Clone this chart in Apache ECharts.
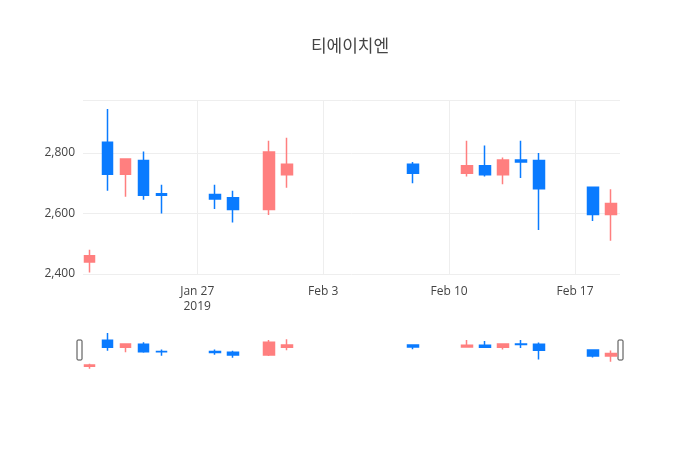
<!DOCTYPE html>
<html><head><meta charset="utf-8">
<script src="https://cdn.jsdelivr.net/npm/echarts@6/dist/echarts.min.js"></script>
<style>html,body{margin:0;padding:0;background:#fff}#c{width:700px;height:450px}</style>
</head><body><div id="c"></div>
<script>
const dates = ['2019-01-21','2019-01-22','2019-01-23','2019-01-24','2019-01-25','2019-01-28','2019-01-29','2019-01-31','2019-02-01','2019-02-08','2019-02-11','2019-02-12','2019-02-13','2019-02-14','2019-02-15','2019-02-18','2019-02-19'];
const opens  = [2440,2835,2730,2775,2665,2663,2652,2613,2728,2763,2733,2758,2728,2777,2775,2687,2597];
const closes = [2460,2730,2780,2660,2660,2648,2613,2803,2763,2733,2758,2728,2777,2770,2682,2597,2633];
const lows   = [2405,2675,2655,2645,2600,2615,2570,2595,2685,2700,2722,2722,2697,2717,2545,2575,2510];
const highs  = [2480,2945,2780,2805,2695,2695,2675,2840,2850,2770,2840,2825,2785,2840,2800,2687,2680];
const tickDates = ['2019-01-27','2019-02-03','2019-02-10','2019-02-17'];
const tickLabels = ['Jan 27\n2019','Feb 3','Feb 10','Feb 17'];

const DAY = 86400000;
const base = Date.parse('2019-01-27T00:00:00Z');
const day = d => (Date.parse(d + 'T00:00:00Z') - base) / DAY;
const data = dates.map((d,i)=>[day(d), opens[i], closes[i], lows[i], highs[i]]);
const xmin = -6.35, xmax = 23.5;
const tickVals = tickDates.map(day);
const fmt = v => { const i = tickVals.indexOf(v); return i >= 0 ? tickLabels[i] : ''; };
const UP = '#FF7F7F', DN = '#0A7BFF';
const style = {color: UP, color0: DN, borderColor: UP, borderColor0: DN, borderWidth: 1.5};

const chart = echarts.init(document.getElementById('c'));
chart.setOption({
  animation: false,
  textStyle: {fontFamily: 'Open Sans, Noto Sans CJK KR'},
  title: {text: '티에이치엔', left: 'center', top: 32, textStyle: {fontFamily: 'Noto Sans CJK KR', fontSize: 17, fontWeight: 'normal', color: '#444'}},
  grid: [
    {left: 83, right: 80, top: 100, height: 174},
    {left: 83, right: 80, top: 332, height: 37}
  ],
  xAxis: [
    {type: 'value', gridIndex: 0, min: xmin, max: xmax,
     axisLine: {show: false}, axisTick: {show: false, customValues: tickVals},
     axisLabel: {customValues: tickVals, formatter: fmt, color: '#444', fontSize: 12, lineHeight: 15, margin: 10},
     splitLine: {show: true, lineStyle: {color: '#eee'}}},
    {type: 'value', gridIndex: 1, min: xmin, max: xmax, show: false, splitLine: {show: false}}
  ],
  yAxis: [
    {type: 'value', gridIndex: 0, min: 2400, max: 2975, interval: 200,
     axisLine: {show: false}, axisTick: {show: false},
     axisLabel: {color: '#444', fontSize: 12, showMaxLabel: false},
     splitLine: {lineStyle: {color: '#eee'}}},
    {type: 'value', gridIndex: 1, min: 2400, max: 2960, show: false, splitLine: {show: false}}
  ],
  graphic: [
    {type: 'rect', shape: {x: 77, y: 340, width: 5, height: 20, r: 1}, style: {fill: '#fff', stroke: '#444', lineWidth: 1}},
    {type: 'rect', shape: {x: 618, y: 340, width: 5, height: 20, r: 1}, style: {fill: '#fff', stroke: '#444', lineWidth: 1}}
  ],
  series: [
    {type: 'candlestick', xAxisIndex: 0, yAxisIndex: 0, data: data, barWidth: 11, itemStyle: style},
    {type: 'candlestick', xAxisIndex: 1, yAxisIndex: 1, data: data, barWidth: 11, itemStyle: style}
  ]
});
</script></body></html>
